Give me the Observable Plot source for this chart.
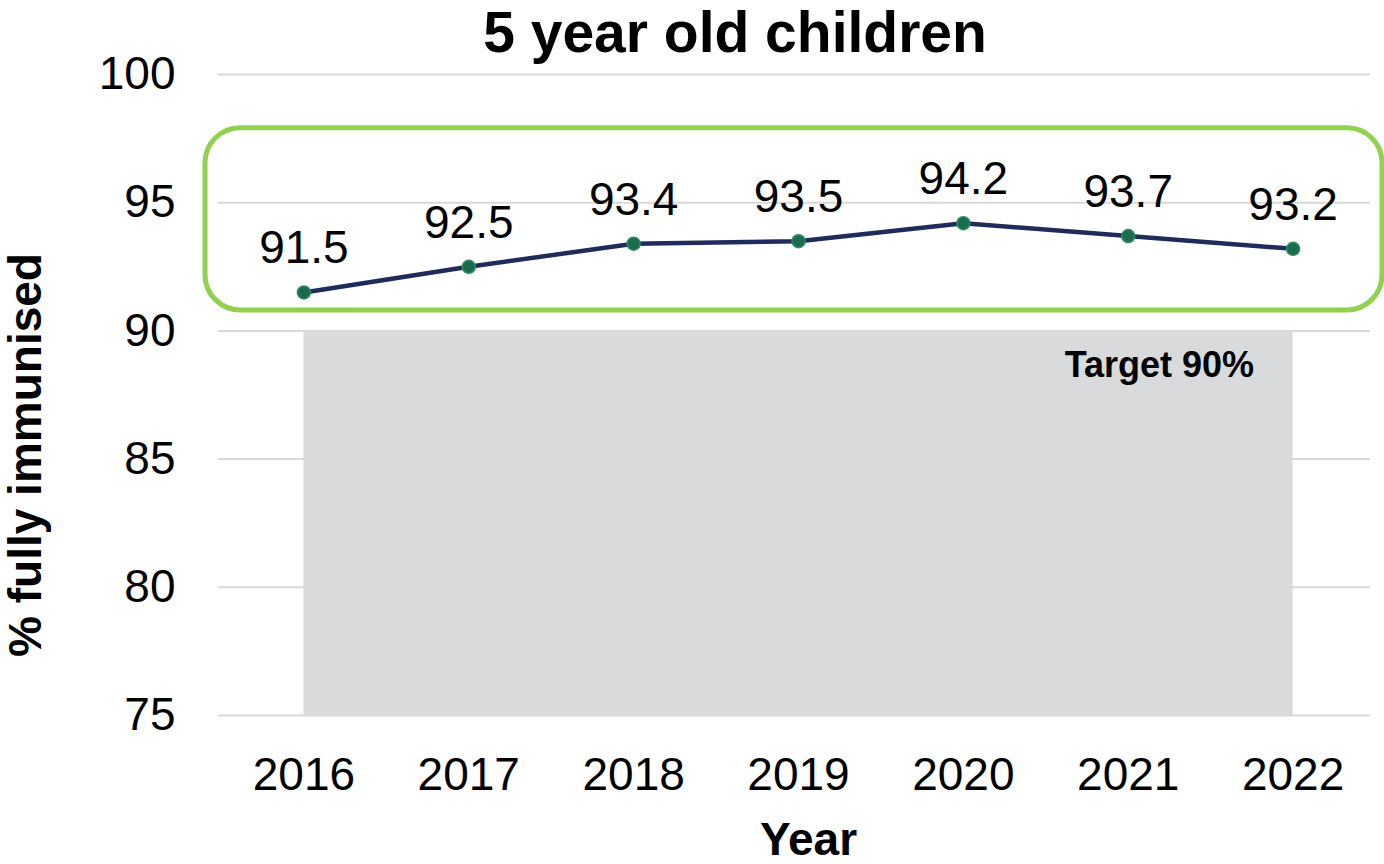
<!DOCTYPE html>
<html>
<head>
<meta charset="utf-8">
<script src="https://cdn.jsdelivr.net/npm/d3@7"></script>
<script src="https://cdn.jsdelivr.net/npm/@observablehq/plot@0.6"></script>
<style>
  html, body { margin: 0; padding: 0; background: #fff; }
  body { width: 1384px; height: 864px; overflow: hidden; font-family: "Liberation Sans", Arial, sans-serif; }
  #title { height: 64px; line-height: 64px; font-size: 57px; font-weight: bold; text-align: center; padding-left: 86px; box-sizing: border-box; width: 1384px; color: #000; }
  #chart svg { overflow: visible; display: block; }
</style>
</head>
<body>
<div id="title">5 year old children</div>
<div id="chart"></div>
<script>
const years = [2016, 2017, 2018, 2019, 2020, 2021, 2022];
const values = [91.5, 92.5, 93.4, 93.5, 94.2, 93.7, 93.2];
const yTicks = [75, 80, 85, 90, 95, 100];
const targetValue = 90;
const targetLabel = "Target 90%";
const highlightRange = [90.8, 97.9];
const xLabel = "Year";
const yLabel = "% fully immunised";

const data = years.map((year, i) => ({year, value: values[i]}));
const box = [{lo: highlightRange[0], hi: highlightRange[1]}];
const target = [{year: years[years.length - 1], value: targetValue, label: targetLabel}];

const chart = Plot.plot({
  width: 1384,
  height: 800,
  marginTop: 10,
  marginBottom: 149,
  marginLeft: 221,
  marginRight: 9,
  style: {fontFamily: "'Liberation Sans', Arial, sans-serif", fontSize: "46px", color: "#000", background: "#fff", overflow: "visible"},
  x: {type: "point", domain: years, padding: 0.5, round: false, tickSize: 0, tickPadding: 42, label: null, tickFormat: d => `${d}`},
  y: {domain: [75, 100], ticks: yTicks, tickSize: 0, tickPadding: 46, label: null},
  marks: [
    Plot.ruleY(yTicks, {stroke: "#d9d9d9", strokeWidth: 2, insetLeft: -3, insetRight: 5}),
    Plot.areaY(data, {x: "year", y1: yTicks[0], y2: targetValue, fill: "#d9dadc"}),
    Plot.rect(box, {y1: "lo", y2: "hi", insetLeft: -16, insetRight: -7, rx: 35, ry: 35, fill: "none", stroke: "#92d050", strokeWidth: 5}),
    Plot.line(data, {x: "year", y: "value", stroke: "#1f2b5b", strokeWidth: 4.5}),
    Plot.dot(data, {x: "year", y: "value", r: 6.5, fill: "#1b6b4e", stroke: "#2f8a63", strokeWidth: 1.5}),
    Plot.text(data, {x: "year", y: "value", text: d => d.value.toFixed(1), lineAnchor: "bottom", dy: -29, fontSize: 46, fill: "#000"}),
    Plot.text(target, {x: "year", y: "value", text: "label", textAnchor: "end", lineAnchor: "middle", dx: -39, dy: 35, fontSize: 36, fontWeight: "bold", fill: "#000"}),
    Plot.text([xLabel], {frameAnchor: "bottom", textAnchor: "middle", lineAnchor: "bottom", dx: 10, dy: 139, fontSize: 46, fontWeight: "bold", fill: "#000"}),
    Plot.text([yLabel], {frameAnchor: "left", textAnchor: "middle", rotate: -90, lineAnchor: "top", dx: -213, dy: 60, fontSize: 46, fontWeight: "bold", fill: "#000"})
  ]
});
document.getElementById("chart").appendChild(chart);
</script>
</body>
</html>
